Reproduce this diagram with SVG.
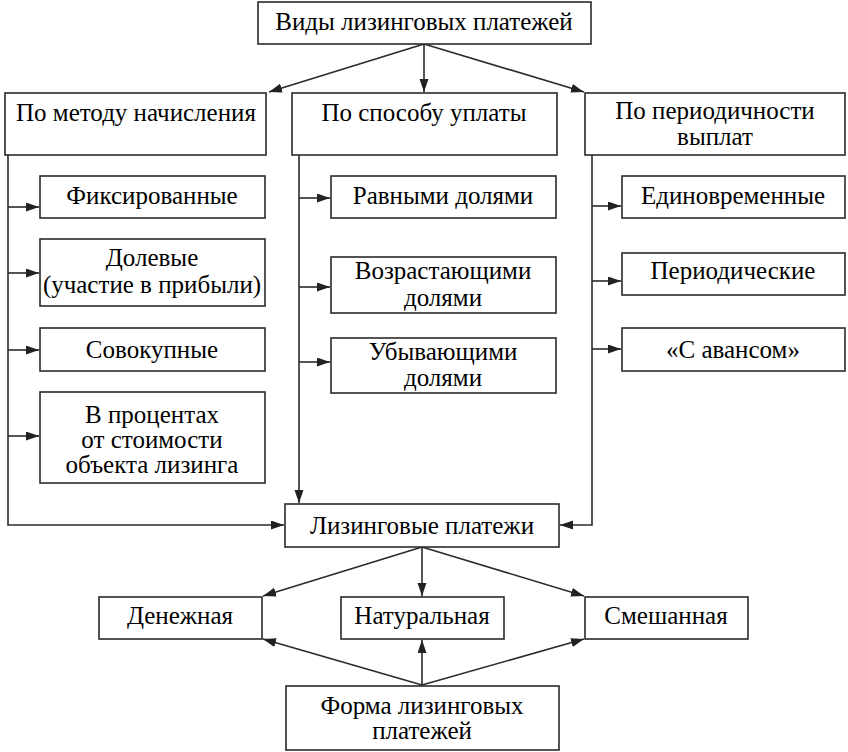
<svg xmlns="http://www.w3.org/2000/svg" width="848" height="752" viewBox="0 0 848 752">
<defs>
<marker id="ah" markerUnits="userSpaceOnUse" markerWidth="14" markerHeight="10" refX="13" refY="4.5" orient="auto">
<path d="M0,0 L13,4.5 L0,9 Z" fill="#222"/>
</marker>
</defs>
<rect width="848" height="752" fill="#fff"/>

<g id="connectors" fill="none" stroke="#2a2a2a" stroke-width="1.6" marker-end="url(#ah)">
<path d="M424,44 L269,92"/>
<path d="M424,44 L424,92"/>
<path d="M424,44 L584,92"/>
<path d="M8,155 L8,525 L284,525"/>
<path d="M8,207 L39,207"/>
<path d="M8,273 L39,273"/>
<path d="M8,350 L39,350"/>
<path d="M8,436 L39,436"/>
<path d="M299,155 L299,503"/>
<path d="M299,198 L330,198"/>
<path d="M299,287 L330,287"/>
<path d="M299,362 L330,362"/>
<path d="M592,155 L592,525 L560,525"/>
<path d="M592,206 L621,206"/>
<path d="M592,281 L621,281"/>
<path d="M592,349 L621,349"/>
<path d="M422,547 L263,596"/>
<path d="M422,547 L422,596"/>
<path d="M422,547 L584,596"/>
<path d="M422,685 L263,639"/>
<path d="M422,685 L422,640"/>
<path d="M422,685 L584,639"/>
</g>

<g id="n-root"><rect x="258" y="2" width="333" height="42" fill="#fff" stroke="#2a2a2a" stroke-width="1.6"/><text x="424" y="30" font-family="Liberation Serif" font-size="25" text-anchor="middle">Виды лизинговых платежей</text></g>
<g id="n-method"><rect x="5" y="93" width="261" height="62" fill="#fff" stroke="#2a2a2a" stroke-width="1.6"/><text x="136" y="121" font-family="Liberation Serif" font-size="25" text-anchor="middle">По методу начисления</text></g>
<g id="n-way"><rect x="292" y="93" width="265" height="62" fill="#fff" stroke="#2a2a2a" stroke-width="1.6"/><text x="424" y="121" font-family="Liberation Serif" font-size="25" text-anchor="middle">По способу уплаты</text></g>
<g id="n-period"><rect x="585" y="93" width="260" height="62" fill="#fff" stroke="#2a2a2a" stroke-width="1.6"/><text x="715" y="119" font-family="Liberation Serif" font-size="25" text-anchor="middle">По периодичности</text><text x="715" y="145" font-family="Liberation Serif" font-size="25" text-anchor="middle">выплат</text></g>
<g id="n-fixed"><rect x="40" y="176" width="225" height="42" fill="#fff" stroke="#2a2a2a" stroke-width="1.6"/><text x="152" y="204" font-family="Liberation Serif" font-size="25" text-anchor="middle">Фиксированные</text></g>
<g id="n-share"><rect x="40" y="239" width="225" height="67" fill="#fff" stroke="#2a2a2a" stroke-width="1.6"/><text x="152" y="266" font-family="Liberation Serif" font-size="25" text-anchor="middle">Долевые</text><text x="152" y="293" font-family="Liberation Serif" font-size="25" text-anchor="middle">(участие в прибыли)</text></g>
<g id="n-total"><rect x="40" y="328" width="225" height="43" fill="#fff" stroke="#2a2a2a" stroke-width="1.6"/><text x="152" y="358" font-family="Liberation Serif" font-size="25" text-anchor="middle">Совокупные</text></g>
<g id="n-percent"><rect x="40" y="392" width="225" height="91" fill="#fff" stroke="#2a2a2a" stroke-width="1.6"/><text x="152" y="423" font-family="Liberation Serif" font-size="25" text-anchor="middle">В процентах</text><text x="152" y="448" font-family="Liberation Serif" font-size="25" text-anchor="middle">от стоимости</text><text x="152" y="473" font-family="Liberation Serif" font-size="25" text-anchor="middle">объекта лизинга</text></g>
<g id="n-equal"><rect x="331" y="176" width="225" height="42" fill="#fff" stroke="#2a2a2a" stroke-width="1.6"/><text x="443" y="204" font-family="Liberation Serif" font-size="25" text-anchor="middle">Равными долями</text></g>
<g id="n-incr"><rect x="331" y="257" width="225" height="56" fill="#fff" stroke="#2a2a2a" stroke-width="1.6"/><text x="443" y="279" font-family="Liberation Serif" font-size="25" text-anchor="middle">Возрастающими</text><text x="443" y="306" font-family="Liberation Serif" font-size="25" text-anchor="middle">долями</text></g>
<g id="n-decr"><rect x="331" y="338" width="225" height="55" fill="#fff" stroke="#2a2a2a" stroke-width="1.6"/><text x="443" y="360" font-family="Liberation Serif" font-size="25" text-anchor="middle">Убывающими</text><text x="443" y="386" font-family="Liberation Serif" font-size="25" text-anchor="middle">долями</text></g>
<g id="n-once"><rect x="622" y="176" width="223" height="42" fill="#fff" stroke="#2a2a2a" stroke-width="1.6"/><text x="733" y="204" font-family="Liberation Serif" font-size="25" text-anchor="middle">Единовременные</text></g>
<g id="n-periodic"><rect x="622" y="253" width="223" height="42" fill="#fff" stroke="#2a2a2a" stroke-width="1.6"/><text x="733" y="279" font-family="Liberation Serif" font-size="25" text-anchor="middle">Периодические</text></g>
<g id="n-advance"><rect x="622" y="328" width="223" height="43" fill="#fff" stroke="#2a2a2a" stroke-width="1.6"/><text x="733" y="358" font-family="Liberation Serif" font-size="25" text-anchor="middle">«С авансом»</text></g>
<g id="n-payments"><rect x="285" y="504" width="274" height="43" fill="#fff" stroke="#2a2a2a" stroke-width="1.6"/><text x="422" y="534" font-family="Liberation Serif" font-size="25" text-anchor="middle">Лизинговые платежи</text></g>
<g id="n-money"><rect x="99" y="597" width="163" height="42" fill="#fff" stroke="#2a2a2a" stroke-width="1.6"/><text x="180" y="624" font-family="Liberation Serif" font-size="25" text-anchor="middle">Денежная</text></g>
<g id="n-natural"><rect x="341" y="597" width="163" height="42" fill="#fff" stroke="#2a2a2a" stroke-width="1.6"/><text x="422" y="624" font-family="Liberation Serif" font-size="25" text-anchor="middle">Натуральная</text></g>
<g id="n-mixed"><rect x="585" y="597" width="163" height="42" fill="#fff" stroke="#2a2a2a" stroke-width="1.6"/><text x="666" y="624" font-family="Liberation Serif" font-size="25" text-anchor="middle">Смешанная</text></g>
<g id="n-form"><rect x="286" y="686" width="273" height="64" fill="#fff" stroke="#2a2a2a" stroke-width="1.6"/><text x="422" y="714" font-family="Liberation Serif" font-size="25" text-anchor="middle">Форма лизинговых</text><text x="422" y="739" font-family="Liberation Serif" font-size="25" text-anchor="middle">платежей</text></g>
</svg>
